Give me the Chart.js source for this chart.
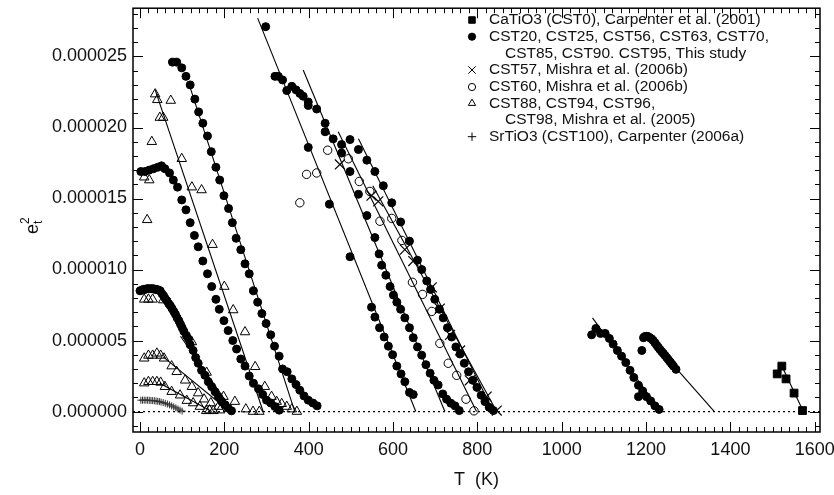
<!DOCTYPE html>
<html lang="en">
<head>
<meta charset="UTF-8">
<title>e_t^2 vs T</title>
<script src="https://cdn.jsdelivr.net/npm/chart.js"></script>
<style>
  body { margin: 0; background: #fff; }
  #wrap { position: relative; width: 834px; height: 495px; }
</style>
</head>
<body>
<div id="wrap"><canvas id="chart" width="834" height="495"></canvas></div>
<script>
// axes (y values are in units of 1e-6)
const xTicks = [0, 200, 400, 600, 800, 1000, 1200, 1400, 1600];
const yTicks = [0, 5, 10, 15, 20, 25];
const xMin = -16.6, xMax = 1612.5;
const yMin = -1.44, yMax = 28.4;

// filled circles, this study (one array pair per sample)
const dotsA_T = [77,87,99,109,119,130,139,149,160,169,180,189,199,210,219,228,239,249,259,269,279,289,299,310,319,330,338,349,360,370,379,389,399,410,420];
const dotsA_e = [24.6,24.6,24.2,23.6,23.0,22.0,21.1,20.3,19.4,18.3,17.2,16.3,15.2,14.3,13.3,12.2,11.4,10.4,9.7,8.5,7.7,6.9,6.2,5.4,4.6,3.9,3.0,2.8,2.3,1.9,1.5,1.1,0.8,0.6,0.4];
const dotsB_T = [2,12,22,32,42,51,59,70,79,89,99,109,119,129,138,149,160,170,180,188,199,209,220,229,239,249,259,269,281,291,300,310,320,330];
const dotsB_e = [16.9,16.9,17.0,17.1,17.2,17.3,17.1,16.8,16.3,15.8,14.9,14.2,13.3,12.4,11.6,10.6,9.7,8.8,7.9,7.2,6.4,5.7,5.0,4.4,3.7,3.2,2.5,2.0,1.6,1.2,0.8,0.6,0.35,0.1];
const dotsC_T = [0,4,8,12,16,20,24,28,32,36,40,44,48,52,56,60,64,68,72,76,80,84,88,92,96,100,104,110,115,119,126,132,138,146,154,162,170,178,186,194,202,209,217];
const dotsC_e = [8.5,8.55,8.6,8.6,8.65,8.65,8.65,8.65,8.65,8.6,8.6,8.55,8.5,8.3,8.15,7.95,7.8,7.6,7.45,7.25,7.05,6.85,6.6,6.4,6.15,5.9,5.65,5.35,5.1,4.7,4.3,3.8,3.4,2.9,2.55,2.1,1.75,1.4,1.05,0.7,0.47,0.24,0.05];
const dotsD_T = [320,328,338,348,360,370,379,387,399,399,419,439,439,458,478,478,498,518,538,557,567,573,583,593,601,609,618,628,639,648,658,668,678,688,697,707,718,727,737,747,757];
const dotsD_e = [23.6,23.6,23.35,22.6,22.9,22.65,22.4,22.2,21.8,21.55,21.3,20.3,19.7,19.2,18.8,18.2,16.9,15.3,13.8,12.25,11.1,10.3,9.6,8.8,8.2,7.7,7.2,6.6,5.9,5.2,4.55,3.97,3.3,2.7,2.2,1.87,1.24,0.87,0.59,0.4,0.07];
const dotsE_T = [298,399,449,498,549,557,568,579,589,599,609,619,628,639,648];
const dotsE_e = [27.1,18.6,14.6,10.9,7.35,6.65,5.9,5.25,4.6,4.0,3.2,2.65,2.1,1.35,1.2];
const dotsF_T = [498,518,538,557,577,597,618,639,658,668,680,689,699,710,719,729,739,749,759,769,779,789,799,809,818,828,838];
const dotsF_e = [19.15,18.45,17.7,16.9,15.9,14.7,13.35,12.0,10.65,10.0,9.2,8.6,7.9,7.2,6.6,5.9,5.25,4.55,4.05,3.4,2.8,2.2,1.7,1.15,0.7,0.3,0.07];
const dotsG_T = [1071,1081,1092,1103,1113,1122,1132,1142,1152,1162,1171,1182,1192,1182,1201,1211,1221,1231];
const dotsG_e = [5.4,5.85,5.5,5.5,5.15,4.75,4.3,3.9,3.45,2.9,2.4,1.85,1.45,1.05,1.05,0.75,0.4,0.15];
const dotsH_T = [1190,1194,1197,1201,1205,1209,1213,1217,1221,1225,1229,1233,1237,1241,1245,1249,1253,1257,1261,1265,1271];
const dotsH_e = [4.3,5.2,5.28,5.3,5.28,5.2,5.12,5.0,4.85,4.68,4.52,4.37,4.23,4.09,3.95,3.8,3.65,3.5,3.35,3.2,2.97];

// CaTiO3 (squares)
const caT = [1511,1522,1532,1551,1571];
const caE = [2.65,3.2,2.3,1.3,0.07];
// CST57 (crosses)
const cst57T = [474,549,565,628,648,692,711,735,759,782,822,846];
const cst57E = [17.4,15.2,14.8,11.4,10.6,8.75,7.25,5.4,4.3,2.2,1.05,0.07];
// CST60 (open circles)
const cst60T = [379,395,419,445,494,520,545,569,597,621,646,670,692,711,731,751,773,792];
const cst60E = [14.7,16.7,16.8,18.4,17.8,16.2,15.5,13.4,13.6,12.05,9.1,8.25,7.05,4.8,3.4,2.55,0.87,0.05];
// CST88..CST98 (triangles)
const tri1T = [10,17,22,28,36,41,47,55,73,99,123,146,172,200,221,249,251,268,273,283,296,312,324,336,348,360,372];
const tri1E = [16.5,13.5,16.3,19.0,22.35,21.95,20.7,20.7,21.9,17.8,15.8,15.6,11.75,8.8,7.15,5.6,0.17,0,3.15,0,1.75,1.05,0.7,0.55,0.35,0.17,0];
const tri2T = [10,20,30,55,123,158,198,225];
const tri2E = [7.9,7.9,7.9,7.85,4.9,2.75,1.05,0.7];
const tri3T = [10,20,30,40,49,57,75,87,107,123,138,152,168,186];
const tri3E = [3.75,3.95,3.95,4.1,3.95,3.75,3.2,2.8,2.2,1.75,1.3,0.87,0.6,0.35];
const tri4T = [10,20,30,40,49,59,75,95,111,126,142,157,165,174,190];
const tri4E = [2.0,2.1,2.1,2.1,2.05,1.75,1.4,1.15,0.77,0.6,0.35,0.05,0.1,0.05,0.1];
// SrTiO3 (plus)
const srT = [2,6,10,14,18,22,26,30,34,38,42,46,50,55,60,65,70,75,80,85,90,95,100];
const srE = [0.8,0.8,0.8,0.8,0.8,0.79,0.78,0.77,0.76,0.74,0.72,0.70,0.67,0.63,0.58,0.53,0.47,0.40,0.33,0.26,0.18,0.10,0.03];

// straight fits: start (T, e) and end (T, e)
const fitStartT = [36, 117, 96, 55, 47, 279, 387, 470, 518, 552, 1073, 1237, 1522];
const fitStartE = [22.65, 23.0, 5.3, 3.85, 2.0, 27.7, 24.05, 19.7, 19.2, 15.9, 6.6, 4.2, 3.2];
const fitEndT = [292, 367, 221, 213, 170, 654, 723, 798, 838, 846, 1235, 1362, 1573];
const fitEndE = [0, 0, 0, 0, 0, 0, 0, 0, 0, 0, 0, 0, 0];

const legendLabels = [
  'CaTiO3 (CST0), Carpenter et al. (2001)',
  'CST20, CST25, CST56, CST63, CST70,',
  'CST85, CST90. CST95, This study',
  'CST57, Mishra et al. (2006b)',
  'CST60, Mishra et al. (2006b)',
  'CST88, CST94, CST96,',
  'CST98, Mishra et al. (2005)',
  'SrTiO3 (CST100), Carpenter (2006a)'
];
const legendSymbols = ['rect', 'circle', '', 'crossRot', 'circleOpen', 'triangle', '', 'cross'];

function pts(T, e) {
  return T.map((t, i) => ({x: t, y: e[i]}));
}

const FONT = '"Liberation Sans", Arial, Helvetica, sans-serif';
const dot = {pointStyle: 'circle', pointRadius: 4, backgroundColor: '#000', borderColor: '#000', borderWidth: 1, showLine: false};
const tri = {pointStyle: 'triangle', pointRadius: 5.5, backgroundColor: 'rgba(255,255,255,0)', borderColor: '#000', borderWidth: 1, showLine: false};

const datasets = [];
// dotted zero line
datasets.push({data: pts([xMin, xMax], [0, 0]), showLine: true, pointRadius: 0, borderColor: '#000', borderWidth: 1.2, borderDash: [2, 3]});
// fit lines
for (let i = 0; i < fitStartT.length; i++) {
  datasets.push({
    data: pts([fitStartT[i], fitEndT[i]], [fitStartE[i], fitEndE[i]]),
    showLine: true, pointRadius: 0, borderColor: '#000', borderWidth: 1.1
  });
}
[[dotsA_T, dotsA_e], [dotsB_T, dotsB_e], [dotsC_T, dotsC_e], [dotsD_T, dotsD_e],
 [dotsE_T, dotsE_e], [dotsF_T, dotsF_e], [dotsG_T, dotsG_e], [dotsH_T, dotsH_e]].forEach(p => {
  datasets.push(Object.assign({data: pts(p[0], p[1])}, dot));
});
[[tri1T, tri1E], [tri2T, tri2E], [tri3T, tri3E], [tri4T, tri4E]].forEach(p => {
  datasets.push(Object.assign({data: pts(p[0], p[1])}, tri));
});
datasets.push({data: pts(cst60T, cst60E), showLine: false, pointStyle: 'circle', pointRadius: 4.2, backgroundColor: 'rgba(255,255,255,0)', borderColor: '#000', borderWidth: 1});
datasets.push({data: pts(cst57T, cst57E), showLine: false, pointStyle: 'crossRot', pointRadius: 7, borderColor: '#000', borderWidth: 1.2});
datasets.push({data: pts(caT, caE), showLine: false, pointStyle: 'rect', pointRadius: 5.5, backgroundColor: '#000', borderColor: '#000', borderWidth: 1});
datasets.push({data: pts(srT, srE), showLine: false, pointStyle: 'cross', pointRadius: 3.5, borderColor: '#333', borderWidth: 1});

// frame with inward minor/major ticks on all four sides
const framePlugin = {
  id: 'frame',
  afterDatasetsDraw(chart) {
    const {ctx, chartArea: a, scales: {x, y}} = chart;
    ctx.save();
    ctx.strokeStyle = '#000';
    ctx.lineWidth = 1;
    ctx.beginPath();
    for (let v = 0; v <= x.max; v += 20) {
      const px = Math.round(x.getPixelForValue(v)) + 0.5;
      const len = v % 200 === 0 ? 10 : 5;
      ctx.moveTo(px, a.bottom); ctx.lineTo(px, a.bottom - len);
      ctx.moveTo(px, a.top); ctx.lineTo(px, a.top + len);
    }
    for (let v = Math.ceil(y.min); v <= y.max; v += 1) {
      const py = Math.round(y.getPixelForValue(v)) + 0.5;
      const len = v % 5 === 0 ? 10 : 5;
      ctx.moveTo(a.left, py); ctx.lineTo(a.left + len, py);
      ctx.moveTo(a.right, py); ctx.lineTo(a.right - len, py);
    }
    ctx.stroke();
    ctx.lineWidth = 1.5;
    ctx.strokeRect(a.left, a.top, a.right - a.left, a.bottom - a.top);
    ctx.restore();
  }
};

// legend inside the plot, and rotated y title e_t^2
const extrasPlugin = {
  id: 'extras',
  afterDraw(chart) {
    const ctx = chart.ctx;
    ctx.save();
    ctx.fillStyle = '#111';
    ctx.strokeStyle = '#000';
    ctx.font = '15.5px ' + FONT;
    ctx.textBaseline = 'middle';
    const rowY = [20, 36.7, 53.3, 70, 87, 103.3, 120, 136.7];
    legendLabels.forEach((txt, i) => {
      const sym = legendSymbols[i];
      const tx = sym ? 489 : 505;
      ctx.fillStyle = '#111';
      ctx.fillText(txt, tx, rowY[i]);
      if (!sym) return;
      const opts = {pointStyle: sym === 'circleOpen' ? 'circle' : sym, radius: 3.6, rotation: 0, borderWidth: 1};
      if (sym === 'rect') opts.radius = 4.6;
      if (sym === 'triangle') opts.radius = 4.2;
      if (sym === 'crossRot') opts.radius = 5.2;
      if (sym === 'cross') opts.radius = 4.2;
      ctx.fillStyle = (sym === 'circleOpen' || sym === 'triangle') ? 'rgba(255,255,255,0)' : '#000';
      ctx.lineWidth = 1;
      Chart.helpers.drawPoint(ctx, opts, 472, rowY[i]);
    });
    // y axis title
    ctx.fillStyle = '#111';
    ctx.textBaseline = 'alphabetic';
    ctx.translate(38, 234);
    ctx.rotate(-Math.PI / 2);
    ctx.font = '18px ' + FONT;
    ctx.fillText('e', 0, 0);
    const w = ctx.measureText('e').width;
    ctx.font = '12px ' + FONT;
    ctx.fillText('t', w, 4);
    ctx.fillText('2', w, -9);
    ctx.restore();
  }
};

new Chart(document.getElementById('chart'), {
  type: 'scatter',
  data: {datasets},
  options: {
    responsive: false,
    animation: false,
    layout: {padding: {top: 6, right: 14, left: 0, bottom: 0}},
    plugins: {legend: {display: false}, tooltip: {enabled: false}},
    scales: {
      x: {
        type: 'linear', min: xMin, max: xMax,
        grid: {display: false, drawTicks: false},
        border: {display: false},
        afterBuildTicks: s => { s.ticks = xTicks.map(v => ({value: v})); },
        afterFit: s => { s.height = 63; s.paddingLeft = 0; s.paddingRight = 0; },
        ticks: {color: '#111', padding: 7, maxRotation: 0, font: {family: FONT, size: 18}, callback: v => String(v)},
        title: {display: true, text: 'T  (K)', color: '#111', font: {family: FONT, size: 18}, padding: {top: 0, bottom: 4}}
      },
      y: {
        type: 'linear', min: yMin, max: yMax,
        grid: {display: false, drawTicks: false},
        border: {display: false},
        afterBuildTicks: s => { s.ticks = yTicks.map(v => ({value: v})); },
        afterFit: s => { s.width = 133; s.paddingTop = 0; s.paddingBottom = 0; },
        ticks: {color: '#111', padding: 6, font: {family: FONT, size: 18}, callback: v => (v * 1e-6).toFixed(6)}
      }
    }
  },
  plugins: [framePlugin, extrasPlugin]
});
</script>
</body>
</html>
